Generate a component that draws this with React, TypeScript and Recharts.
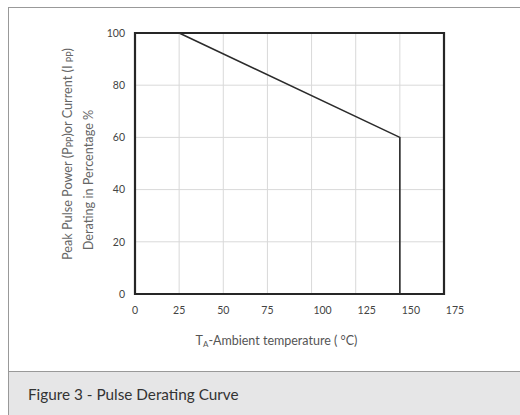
import React from "react";
import {
  LineChart, Line, XAxis, YAxis, CartesianGrid, ReferenceArea,
} from "recharts";

// derating curve points
const temperatures = [25, 150, 150];
const derating = [100, 60, 0];

const xTicks = [0, 25, 50, 75, 100, 125, 150, 175];
const yTicks = [0, 20, 40, 60, 80, 100];

const data = temperatures.map((t, i) => ({ temp: t, pct: derating[i] }));

const FONT = "Lato, 'Open Sans', sans-serif";

function XTick(props: any) {
  const { x, y, payload } = props;
  // three-digit labels in the original sit a bit right of their gridline
  const shift = payload.value >= 100 ? 11 : 0;
  return (
    <text x={x + shift} y={y} dy="0.71em" textAnchor="middle"
      fill="#444" fontSize={10.5} fontFamily={FONT}>
      {payload.value}
    </text>
  );
}

function XLabel(props: any) {
  const { viewBox } = props;
  const cx = viewBox.x + viewBox.width / 2 - 13;
  return (
    <text x={cx} y={viewBox.y + 51} textAnchor="middle" fill="#555"
      fontSize={12.5} fontFamily={FONT}>
      T<tspan fontSize={8} dy={2}>A</tspan>
      <tspan dy={-2}>-Ambient temperature ( °C)</tspan>
    </text>
  );
}

function YLabel() {
  const x1 = 67;
  const x2 = 88;
  const c1 = 154;
  const c2 = 180;
  return (
    <g fill="#666" fontSize={12.7} fontFamily={FONT}>
      <text x={x1} y={c1} textAnchor="middle" dominantBaseline="central"
        transform={`rotate(-90 ${x1} ${c1})`}>
        Peak Pulse Power (P<tspan fontSize={9} dy={2}>PP</tspan>
        <tspan dy={-2}>)or Current (I </tspan>
        <tspan fontSize={9} dy={2}>PP</tspan>
        <tspan dy={-2}>)</tspan>
      </text>
      <text x={x2} y={c2} textAnchor="middle" dominantBaseline="central"
        transform={`rotate(-90 ${x2} ${c2})`}>
        Derating in Percentage %
      </text>
    </g>
  );
}

export default function App() {
  return (
    <div style={{ position: "absolute", left: 0, top: 0, width: 520, height: 415, background: "#fff", overflow: "hidden" }}>
      <div style={{
        position: "absolute", left: 8, top: 7, width: 530, height: 420,
        borderLeft: "1.5px solid #999", borderTop: "1.5px solid #999",
        boxSizing: "border-box",
      }} />
      <div style={{
        position: "absolute", left: 9, top: 371, width: 520, height: 50,
        background: "#e6e6e7", borderTop: "1.5px solid #999", boxSizing: "border-box",
      }}>
        <div style={{
          position: "absolute", left: 19, top: 13, fontFamily: FONT,
          fontSize: 15.3, color: "#333",
        }}>
          Figure 3 - Pulse Derating Curve
        </div>
      </div>
      <div style={{ position: "absolute", left: 0, top: 0 }}>
        <LineChart width={520} height={370} data={data}
          margin={{ top: 33, right: 76, bottom: 46, left: 105 }}>
          <CartesianGrid stroke="#d9d9d9" strokeWidth={1} />
          <XAxis dataKey="temp" type="number" domain={[0, 175]} ticks={xTicks}
            height={30} axisLine={false} tickLine={false} tickSize={0} tickMargin={13}
            tick={<XTick />} interval={0} label={<XLabel />} />
          <YAxis type="number" domain={[0, 100]} ticks={yTicks} width={30}
            axisLine={false} tickLine={false} tickSize={0} tickMargin={10}
            tick={{ fill: "#444", fontSize: 10.5, fontFamily: FONT }} interval={0}
            label={<YLabel />} />
          <ReferenceArea x1={0} x2={175} y1={0} y2={100} fill="none"
            stroke="#262626" strokeWidth={2.2} fillOpacity={0} />
          <Line type="linear" dataKey="pct" stroke="#2b2b2b" strokeWidth={1.6}
            dot={false} isAnimationActive={false} />
        </LineChart>
      </div>
    </div>
  );
}
